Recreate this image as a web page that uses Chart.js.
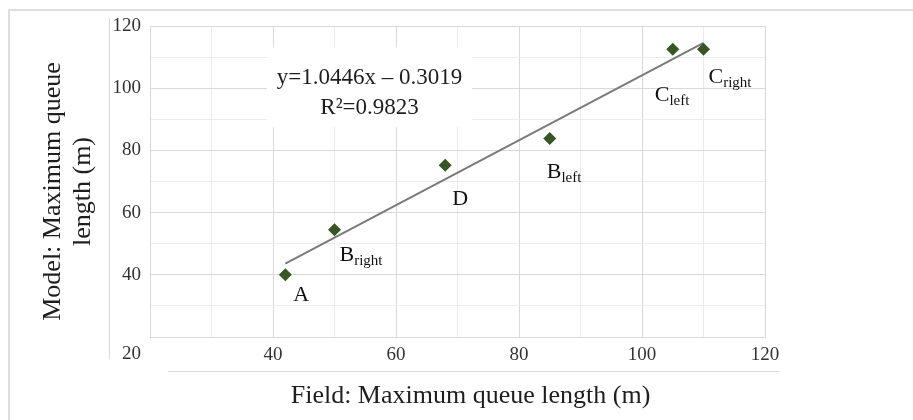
<!DOCTYPE html>
<html>
<head>
<meta charset="utf-8">
<script src="https://cdn.jsdelivr.net/npm/chart.js@4.4.0/dist/chart.umd.min.js"></script>
<style>
  html, body { margin: 0; padding: 0; background: #fff; overflow: hidden; }
  #wrap { position: relative; width: 913px; height: 420px; overflow: hidden; }
  #frame { position: absolute; left: 8px; top: 9px; width: 1000px; height: 1000px;
           border-top: 2px solid #dedede; border-left: 2px solid #dedede; }
  canvas { position: absolute; left: 0; top: 0; }
</style>
</head>
<body>
<div id="wrap">
  <div id="frame"></div>
  <canvas id="chart" width="913" height="420"></canvas>
</div>
<script>
// --- DATA ---
const fieldX = [42, 50, 68, 85, 105, 110];
const modelY = [40, 54.5, 75.2, 83.8, 112.5, 112.5];
const pointNames = ['A', 'B', 'D', 'B', 'C', 'C'];
const pointSubs = ['', 'right', '', 'left', 'left', 'right'];
const trendSlope = 1.0446;
const trendIntercept = -0.3019;
const trendX = [42, 110];
const eqLines = ['y=1.0446x \u2013 0.3019', 'R\u00B2=0.9823'];
const xTitle = 'Field: Maximum queue length (m)';
const yTitle = ['Model: Maximum queue', 'length (m)'];

// --- STYLE ---
const SERIF = "'Liberation Serif', 'Times New Roman', serif";
const TEXT = '#1e1e1e';
const TICK = '#333333';
const GRID_MAJOR = '#d9d9d9';
const GRID_MINOR = '#ececec';
// label offsets from point (text left, baseline)
const labelOffsets = [[8, 26], [5, 31], [7, 40], [-3, 39], [-18, 52], [5, 34]];

const tickLabel = v => (v % 20 === 0 && v !== 20) ? v : '';
const gridColor = c => (c.tick && c.tick.value % 20 === 0) ? GRID_MAJOR : GRID_MINOR;

// --- PLUGINS ---
const eqBox = {
  id: 'eqBox',
  beforeDatasetsDraw(chart) {
    const { ctx, scales: { x, y } } = chart;
    const x1 = x.getPixelForValue(39), x2 = x.getPixelForValue(72.4);
    const y1 = y.getPixelForValue(113.2), y2 = y.getPixelForValue(87.5);
    ctx.save();
    ctx.fillStyle = '#fff';
    ctx.fillRect(x1, y1, x2 - x1, y2 - y1);
    ctx.fillStyle = TEXT;
    ctx.font = '23px ' + SERIF;
    ctx.textAlign = 'center';
    ctx.textBaseline = 'middle';
    const cx = (x1 + x2) / 2;
    ctx.fillText(eqLines[0], cx, y1 + 31);
    ctx.fillText(eqLines[1], cx, y1 + 61);
    ctx.restore();
  }
};

const extras = {
  id: 'extras',
  afterDraw(chart) {
    const { ctx, chartArea: a, scales: { x, y } } = chart;
    ctx.save();
    // point labels with subscripts
    ctx.fillStyle = '#111';
    ctx.textBaseline = 'alphabetic';
    ctx.textAlign = 'left';
    fieldX.forEach((fx, i) => {
      const px = x.getPixelForValue(fx) + labelOffsets[i][0];
      const py = y.getPixelForValue(modelY[i]) + labelOffsets[i][1];
      ctx.font = '22px ' + SERIF;
      ctx.fillText(pointNames[i], px, py);
      const w = ctx.measureText(pointNames[i]).width;
      if (pointSubs[i]) {
        ctx.font = '15px ' + SERIF;
        ctx.fillText(pointSubs[i], px + w, py + 4);
      }
    });

    // stray axis lines
    ctx.strokeStyle = GRID_MAJOR;
    ctx.lineWidth = 1;
    ctx.beginPath();
    ctx.moveTo(a.left - 40.5, a.top - 8);
    ctx.lineTo(a.left - 40.5, a.bottom + 22);
    ctx.moveTo(a.left + 18, a.bottom + 34.5);
    ctx.lineTo(a.right + 14, a.bottom + 34.5);
    ctx.stroke();

    // lone "20" label
    ctx.fillStyle = TICK;
    ctx.font = '19px ' + SERIF;
    ctx.textAlign = 'right';
    ctx.textBaseline = 'middle';
    ctx.fillText('20', a.left - 9, a.bottom + 17);

    // axis titles
    ctx.fillStyle = TEXT;
    ctx.font = '26px ' + SERIF;
    ctx.textAlign = 'center';
    ctx.fillText(xTitle, (a.left + a.right) / 2 + 13, a.bottom + 59);
    ctx.translate(53, (a.top + a.bottom) / 2 + 10);
    ctx.rotate(-Math.PI / 2);
    ctx.fillText(yTitle[0], 0, 0);
    ctx.fillText(yTitle[1], 0, 30);
    ctx.restore();
  }
};

// --- CHART ---
const ctx = document.getElementById('chart').getContext('2d');
new Chart(ctx, {
  type: 'scatter',
  data: {
    datasets: [
      {
        data: fieldX.map((v, i) => ({ x: v, y: modelY[i] })),
        pointStyle: 'rectRot',
        pointRadius: 6.5,
        backgroundColor: '#375623',
        borderColor: '#375623',
        borderWidth: 0,
        order: 1
      },
      {
        data: trendX.map(v => ({ x: v, y: trendSlope * v + trendIntercept })),
        showLine: true,
        pointRadius: 0,
        borderColor: '#7a7a7a',
        borderWidth: 2,
        order: 2
      }
    ]
  },
  options: {
    responsive: false,
    animation: false,
    layout: { padding: { left: 0, top: 26, right: 148, bottom: 0 } },
    plugins: { legend: { display: false }, tooltip: { enabled: false } },
    scales: {
      x: {
        type: 'linear', min: 20, max: 120,
        ticks: { stepSize: 10, autoSkip: false, maxRotation: 0, padding: 7,
                 color: TICK, font: { family: SERIF, size: 19 }, callback: tickLabel },
        grid: { color: gridColor, drawTicks: false },
        border: { color: GRID_MAJOR },
        afterFit: s => { s.height = 83; }
      },
      y: {
        type: 'linear', min: 20, max: 120,
        ticks: { stepSize: 10, autoSkip: false, padding: 9,
                 color: TICK, font: { family: SERIF, size: 19 }, callback: tickLabel },
        grid: { color: gridColor, drawTicks: false },
        border: { color: GRID_MAJOR },
        afterFit: s => { s.width = 150; }
      }
    }
  },
  plugins: [eqBox, extras]
});
</script>
</body>
</html>
